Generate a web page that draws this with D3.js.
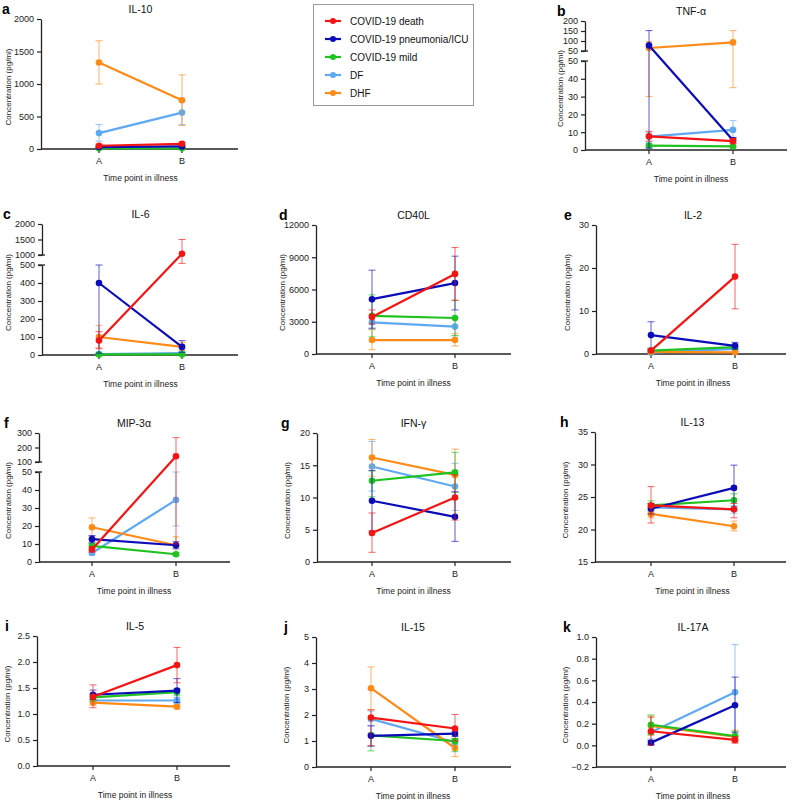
<!DOCTYPE html>
<html><head><meta charset="utf-8">
<script src="https://cdn.jsdelivr.net/npm/d3@7"></script>
<style>
body{margin:0;background:#fff;}
svg{font-family:Arial,"Liberation Sans",Helvetica,sans-serif;}
</style></head>
<body><svg id="c" width="792" height="800"></svg>
<script>
// ---------- data ----------
const groups = ["COVID-19 death","COVID-19 pneumonia/ICU","COVID-19 mild","DF","DHF"];
const timePoints = ["A","B"];
const colors = ["#f41414","#0b0bb8","#1fc21f","#5ea9f2","#ff8a17"];

// each: [group][time]  groups order: death, pneumonia/ICU, mild, DF, DHF
const il10Mean = [[50,80],[30,40],[10,10],[245,560],[1330,750]];
const il10Lo   = [[30,55],[15,20],[3,3],[120,375],[1000,360]];
const il10Hi   = [[70,105],[45,60],[20,20],[375,745],[1665,1140]];

const tnfMean = [[7.7,5],[78,5.5],[2.5,2],[7.5,11.3],[65,93]];
const tnfLo   = [[5,3.5],[1,4],[1.5,1.5],[4.5,6.5],[30,35]];
const tnfHi   = [[10.5,6.5],[152,7],[3.5,2.5],[10,16.5],[97,152]];

const il6Mean = [[80,1040],[400,45],[3,3],[5,10],[100,45]];
const il6Lo   = [[35,580],[10,15],[1,1],[2,4],[40,25]];
const il6Hi   = [[130,1500],[500,80],[5,5],[8,16],[165,70]];

const cd40Mean = [[3450,7450],[5100,6600],[3550,3350],[2950,2550],[1300,1300]];
const cd40Lo   = [[2800,5000],[2400,4100],[1600,1700],[2300,1700],[400,750]];
const cd40Hi   = [[4100,9900],[7800,9100],[5500,5000],[3600,3400],[2300,1900]];

const il2Mean = [[0.8,18],[4.4,1.9],[0.8,1.6],[0.3,1.2],[0.5,0.4]];
const il2Lo   = [[0.5,10.5],[1.3,1.1],[0.5,1.2],[0.1,0.6],[0.3,0.2]];
const il2Hi   = [[1.1,25.5],[7.5,2.7],[1.1,2.0],[0.5,1.8],[0.7,0.6]];

const mipMean = [[7,140],[12.7,9.3],[9,4.3],[5,34.5],[19.3,9.3]];
const mipLo   = [[5.5,10],[10.7,7.3],[7.8,3.5],[3.8,20],[14,5]];
const mipHi   = [[8.5,268],[14.7,11.3],[10.2,5.1],[6.2,50],[24.5,14]];

const ifnMean = [[4.5,10],[9.5,7],[12.6,13.9],[14.8,11.7],[16.2,13.5]];
const ifnLo   = [[1.5,6.5],[4.8,3.2],[10.1,10.8],[11,8],[13.3,9.8]];
const ifnHi   = [[7.6,13.5],[14.2,10.9],[14.1,17],[18.7,15.3],[19,17.5]];

const il13Mean = [[23.7,23.1],[23.2,26.4],[23.7,24.5],[23.4,23.1],[22.4,20.5]];
const il13Lo   = [[21,21.8],[22.4,23],[23,23.5],[22.8,22.5],[21.8,19.8]];
const il13Hi   = [[26.6,24],[24,29.9],[24.4,25.5],[24,23.7],[23.1,21.3]];

const il5Mean = [[1.33,1.94],[1.37,1.45],[1.32,1.42],[1.26,1.26],[1.22,1.14]];
const il5Lo   = [[1.12,1.6],[1.28,1.22],[1.25,1.35],[1.2,1.2],[1.17,1.1]];
const il5Hi   = [[1.56,2.28],[1.46,1.68],[1.39,1.49],[1.32,1.32],[1.27,1.18]];

const il15Mean = [[1.9,1.48],[1.2,1.28],[1.22,1.0],[1.85,0.95],[3.03,0.73]];
const il15Lo   = [[0.82,1.0],[0.8,1.18],[0.62,0.59],[1.6,0.85],[2.2,0.4]];
const il15Hi   = [[2.2,2.02],[1.58,1.38],[1.3,1.1],[2.15,1.05],[3.85,1.1]];

const il17Mean = [[0.13,0.05],[0.025,0.37],[0.19,0.085],[0.12,0.49],[0.18,0.08]];
const il17Lo   = [[0.0,0.02],[0.005,0.12],[0.1,0.04],[0.06,0.05],[0.09,0.03]];
const il17Hi   = [[0.26,0.08],[0.045,0.63],[0.28,0.13],[0.18,0.93],[0.27,0.14]];

// tick values
const il10Ticks = [0,500,1000,1500,2000];
const tnfLowTicks = [0,10,20,30,40,50], tnfUpTicks = [50,100,150,200];
const il6LowTicks = [0,100,200,300,400,500], il6UpTicks = [1000,1500,2000];
const cd40Ticks = [0,3000,6000,9000,12000];
const il2Ticks = [0,10,20,30];
const mipLowTicks = [0,10,20,30,40,50], mipUpTicks = [100,200,300];
const ifnTicks = [0,5,10,15,20];
const il13Ticks = [15,20,25,30,35];
const il5Ticks = [0.0,0.5,1.0,1.5,2.0,2.5];
const il15Ticks = [0,1,2,3,4,5];
const il17Ticks = [-0.2,0.0,0.2,0.4,0.6,0.8,1.0];

// ---------- panels (layout) ----------
const panels = [
 {lab:"a",title:"IL-10",mean:il10Mean,lo:il10Lo,hi:il10Hi,x0:41,x1:238,xa:99,xb:182,top:19,bot:149,dom:[0,2000],ticks:il10Ticks,fmt:d3.format("d"),lx:2,ylx:8},
 {lab:"b",title:"TNF-\u03b1",mean:tnfMean,lo:tnfLo,hi:tnfHi,x0:585,x1:787,xa:649,xb:733,top:21,bot:150,
   brk:{low:[0,50],up:[50,200],lowTop:61,upBot:51},lowTicks:tnfLowTicks,upTicks:tnfUpTicks,fmt:d3.format("d"),lx:557,ylx:560},
 {lab:"c",title:"IL-6",mean:il6Mean,lo:il6Lo,hi:il6Hi,x0:42,x1:238,xa:99,xb:182,top:224,bot:355,
   brk:{low:[0,500],up:[1000,2000],lowTop:265,upBot:255},lowTicks:il6LowTicks,upTicks:il6UpTicks,fmt:d3.format("d"),lx:3,ylx:8},
 {lab:"d",title:"CD40L",mean:cd40Mean,lo:cd40Lo,hi:cd40Hi,x0:316,x1:511,xa:372,xb:455,top:225,bot:354,dom:[0,12000],ticks:cd40Ticks,fmt:d3.format("d"),lx:279,ylx:282},
 {lab:"e",title:"IL-2",mean:il2Mean,lo:il2Lo,hi:il2Hi,x0:596,x1:786,xa:651,xb:735,top:225,bot:354,dom:[0,30],ticks:il2Ticks,fmt:d3.format("d"),lx:564,ylx:567},
 {lab:"f",title:"MIP-3\u03b1",mean:mipMean,lo:mipLo,hi:mipHi,x0:39,x1:230,xa:92,xb:176,top:433,bot:562,
   brk:{low:[0,50],up:[100,300],lowTop:472,upBot:462},lowTicks:mipLowTicks,upTicks:mipUpTicks,fmt:d3.format("d"),lx:4,ylx:8},
 {lab:"g",title:"IFN-\u03b3",mean:ifnMean,lo:ifnLo,hi:ifnHi,x0:317,x1:511,xa:372,xb:455,top:433,bot:562,dom:[0,20],ticks:ifnTicks,fmt:d3.format("d"),lx:281,ylx:287},
 {lab:"h",title:"IL-13",mean:il13Mean,lo:il13Lo,hi:il13Hi,x0:595,x1:786,xa:651,xb:734,top:432,bot:562,dom:[15,35],ticks:il13Ticks,fmt:d3.format("d"),lx:560,ylx:565},
 {lab:"i",title:"IL-5",mean:il5Mean,lo:il5Lo,hi:il5Hi,x0:37,x1:230,xa:93,xb:177,top:636,bot:766,dom:[0,2.5],ticks:il5Ticks,fmt:d3.format(".1f"),lx:5,ylx:7},
 {lab:"j",title:"IL-15",mean:il15Mean,lo:il15Lo,hi:il15Hi,x0:316,x1:511,xa:371,xb:455,top:637,bot:767,dom:[0,5],ticks:il15Ticks,fmt:d3.format("d"),lx:284,ylx:286},
 {lab:"k",title:"IL-17A",mean:il17Mean,lo:il17Lo,hi:il17Hi,x0:596,x1:786,xa:651,xb:735,top:637,bot:767,dom:[-0.2,1.0],ticks:il17Ticks,fmt:d3.format(".1f"),lx:563,ylx:565}
];

const svg = d3.select("#c");
const axisColor = "#222";
const drawOrder = [3,4,2,1,0];

function styleAxis(g){
  g.selectAll("path").attr("stroke",axisColor).attr("stroke-width",1.3);
  g.selectAll("line").attr("stroke",axisColor).attr("stroke-width",1.2);
  g.selectAll("text").attr("fill","#222").style("font-size","9px").style("font-family","Arial, 'Liberation Sans', sans-serif");
}

panels.forEach(p=>{
  const g = svg.append("g");
  let y;
  if(p.brk){
    const b=p.brk;
    const yl = d3.scaleLinear().domain(b.low).range([p.bot,b.lowTop]);
    const yu = d3.scaleLinear().domain(b.up).range([b.upBot,p.top]);
    const eps = b.up[0]===b.low[1] ? 1e-6 : 0;
    y = d3.scaleLinear().domain([b.low[0],b.low[1],b.up[0]+eps,b.up[1]]).range([p.bot,b.lowTop,b.upBot,p.top]);
    const ax1 = g.append("g").attr("transform",`translate(${p.x0},0)`).call(d3.axisLeft(yl).tickValues(p.lowTicks).tickFormat(p.fmt).tickSize(4).tickSizeOuter(0));
    const ax2 = g.append("g").attr("transform",`translate(${p.x0},0)`).call(d3.axisLeft(yu).tickValues(p.upTicks).tickFormat(p.fmt).tickSize(4).tickSizeOuter(0));
    styleAxis(ax1); styleAxis(ax2);
    [b.lowTop,b.upBot].forEach(yy=>{
      g.append("line").attr("x1",p.x0-4).attr("x2",p.x0+3).attr("y1",yy).attr("y2",yy).attr("stroke",axisColor).attr("stroke-width",1.3);
    });
  } else {
    y = d3.scaleLinear().domain(p.dom).range([p.bot,p.top]);
    const ax = g.append("g").attr("transform",`translate(${p.x0},0)`).call(d3.axisLeft(y).tickValues(p.ticks).tickFormat(p.fmt).tickSize(4).tickSizeOuter(0));
    styleAxis(ax);
  }
  const x = d3.scaleOrdinal().domain(timePoints).range([p.xa,p.xb]);
  g.append("line").attr("x1",p.x0).attr("x2",p.x1).attr("y1",p.bot).attr("y2",p.bot).attr("stroke",axisColor).attr("stroke-width",1.3);
  timePoints.forEach(t=>{
    g.append("line").attr("x1",x(t)).attr("x2",x(t)).attr("y1",p.bot).attr("y2",p.bot+4).attr("stroke",axisColor).attr("stroke-width",1.2);
    g.append("text").attr("x",x(t)).attr("y",p.bot+15).attr("text-anchor","middle").style("font-size","9px").attr("fill","#222").text(t);
  });
  g.append("text").attr("x",(p.xa+p.xb)/2).attr("y",p.bot+32).attr("text-anchor","middle").style("font-size","8.5px").attr("fill","#222").text("Time point in illness");
  const cy=(p.top+p.bot)/2+3;
  g.append("text").attr("transform",`translate(${p.ylx+3},${cy}) rotate(-90)`).attr("text-anchor","middle").style("font-size","8px").attr("fill","#222").text("Concentration (pg/ml)");
  g.append("text").attr("x",(p.xa+p.xb)/2).attr("y",p.top-6).attr("text-anchor","middle").style("font-size","10.5px").attr("fill","#111").text(p.title);
  g.append("text").attr("x",p.lx).attr("y",p.top-5).style("font-size","14px").style("font-weight","bold").attr("fill","#000").text(p.lab);

  drawOrder.forEach(si=>{
    const c = colors[si];
    timePoints.forEach((t,ti)=>{
      const xx=x(t), yl=y(p.lo[si][ti]), yh=y(p.hi[si][ti]);
      g.append("line").attr("x1",xx).attr("x2",xx).attr("y1",yl).attr("y2",yh).attr("stroke",c).attr("stroke-width",1).attr("opacity",0.65);
      [yl,yh].forEach(yy=>g.append("line").attr("x1",xx-3.5).attr("x2",xx+3.5).attr("y1",yy).attr("y2",yy).attr("stroke",c).attr("stroke-width",1).attr("opacity",0.65));
    });
    const line = d3.line().x((d,i)=>x(timePoints[i])).y(d=>y(d));
    g.append("path").datum(p.mean[si]).attr("d",line).attr("fill","none").attr("stroke",c).attr("stroke-width",2.2);
    g.selectAll(null).data(p.mean[si]).enter().append("circle")
      .attr("cx",(d,i)=>x(timePoints[i])).attr("cy",d=>y(d)).attr("r",3.3).attr("fill",c);
  });
});

const lg = svg.append("g");
lg.append("rect").attr("x",313.5).attr("y",4.5).attr("width",160).attr("height",101).attr("fill","#fff").attr("stroke","#999").attr("stroke-width",1);
groups.forEach((name,i)=>{
  const yy = 21 + i*18;
  lg.append("line").attr("x1",325).attr("x2",341).attr("y1",yy).attr("y2",yy).attr("stroke",colors[i]).attr("stroke-width",2.2);
  lg.append("circle").attr("cx",333).attr("cy",yy).attr("r",3).attr("fill",colors[i]);
  lg.append("text").attr("x",350).attr("y",yy+3.5).style("font-size","10px").attr("fill","#111").text(name);
});
</script></body></html>
